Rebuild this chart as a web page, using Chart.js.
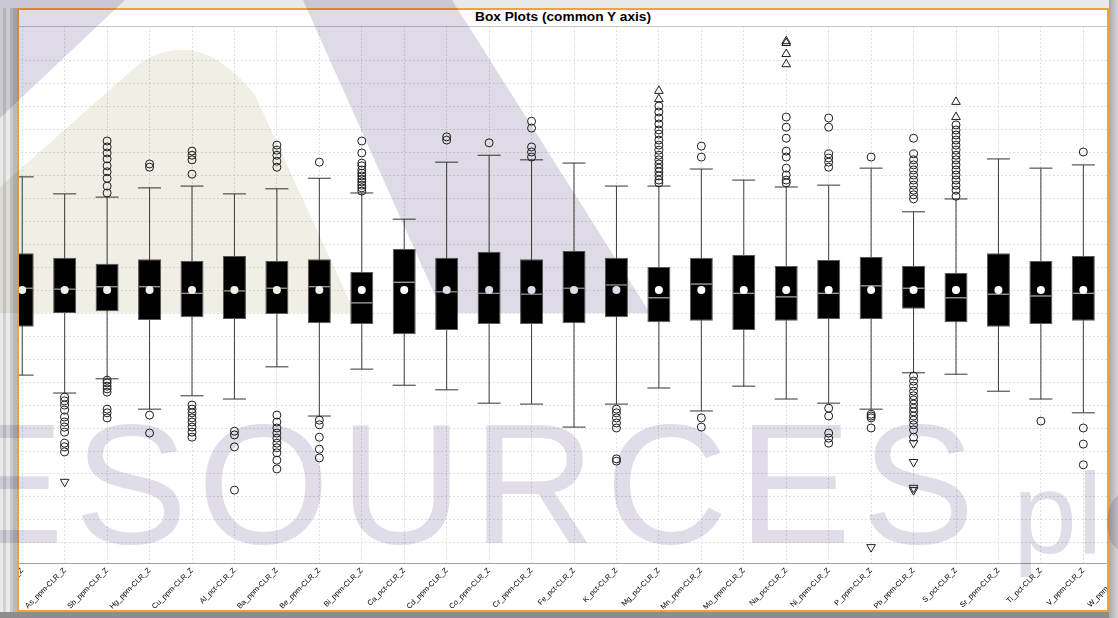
<!DOCTYPE html>
<html><head><meta charset="utf-8">
<title>Box Plots (common Y axis)</title>
<script src="https://cdn.jsdelivr.net/npm/chart.js@4.4.1/dist/chart.umd.min.js"></script>
<style>
html,body{margin:0;padding:0;}
body{width:1118px;height:618px;overflow:hidden;position:relative;background:#d3d3d3;font-family:"Liberation Sans",Arial,sans-serif;}
.abs{position:absolute;}
#leftStrip{left:0;top:0;width:17px;height:618px;background:linear-gradient(90deg,#e9e9e9 0,#e9e9e9 3px,#d0d0d0 3px,#d0d0d0 6px,#ececec 6px,#ececec 10px,#cbcbcb 10px,#cbcbcb 13px,#b9b9b9 13px,#b9b9b9 17px);}
#topStrip{left:0;top:0;width:1118px;height:8px;background:#e9e9e9;}
#bottomStrip{left:0;top:612px;width:1118px;height:6px;background:#8d8d8d;}
#rightStrip{left:1109px;top:0;width:9px;height:618px;background:linear-gradient(90deg,#a9a9a9,#d6d6d6);}
#frame{left:17px;top:8px;width:1088px;height:600px;border:2px solid #f0a23a;background:#fff;}
#clip{left:19px;top:10px;width:1088px;height:600px;overflow:hidden;}
#chartBox{left:-18px;top:16px;width:1146px;height:585px;}
#title{left:19px;top:9px;width:1088px;text-align:center;font-weight:bold;font-size:13.7px;line-height:16px;color:#000;}
#wm{left:0;top:0;mix-blend-mode:multiply;pointer-events:none;}
</style></head>
<body>
<div id="leftStrip" class="abs"></div>
<div id="topStrip" class="abs"></div>
<div id="bottomStrip" class="abs"></div>
<div id="rightStrip" class="abs"></div>
<div id="frame" class="abs"></div>
<div id="clip" class="abs"><div id="chartBox" class="abs"><canvas id="c" width="1146" height="585"></canvas></div></div>
<div id="title" class="abs">Box Plots (common Y axis)</div>
<svg id="wm" class="abs" width="1118" height="618" viewBox="0 0 1118 618">
 <polygon points="0,0 125,0 0,118" fill="#dedbe7"/>
 <path d="M0,313 L0,187 L140,63 Q200,25 255,95 L355,313 Z" fill="#f1eee5"/>
 <polygon points="303,0 452,0 650,313 443,313" fill="#dedbe7"/>
 <text x="-182" y="543" font-family="Liberation Sans, Arial, sans-serif" font-size="170" letter-spacing="10" fill="#e0dde9">RESOURCES</text>
 <text x="1013" y="553" font-family="Liberation Sans, Arial, sans-serif" font-size="115" fill="#e0dde9">plc</text>
</svg>
<script>
const categories = ['Au_ppb-CLR_Z','As_ppm-CLR_Z','Sb_ppm-CLR_Z','Hg_ppm-CLR_Z','Cu_ppm-CLR_Z','Al_pct-CLR_Z','Ba_ppm-CLR_Z','Be_ppm-CLR_Z','Bi_ppm-CLR_Z','Ca_pct-CLR_Z','Cd_ppm-CLR_Z','Co_ppm-CLR_Z','Cr_ppm-CLR_Z','Fe_pct-CLR_Z','K_pct-CLR_Z','Mg_pct-CLR_Z','Mn_ppm-CLR_Z','Mo_ppm-CLR_Z','Na_pct-CLR_Z','Ni_ppm-CLR_Z','P_ppm-CLR_Z','Pb_ppm-CLR_Z','S_pct-CLR_Z','Sr_ppm-CLR_Z','Ti_pct-CLR_Z','V_ppm-CLR_Z','W_ppm-CLR_Z'];

const whiskerHigh = [2.46,2.09,2.02,2.22,2.26,2.09,2.20,2.43,2.11,1.54,2.78,2.93,2.83,2.76,2.26,2.26,2.63,2.39,2.24,2.28,2.65,1.70,1.98,2.85,2.65,2.72,2.50];
const q3 = [0.80,0.70,0.57,0.67,0.63,0.74,0.63,0.67,0.39,0.89,0.70,0.83,0.67,0.85,0.70,0.50,0.70,0.76,0.52,0.65,0.72,0.52,0.37,0.80,0.63,0.74,0.70];
const median = [0.04,0.02,0.07,0.07,-0.07,-0.02,0.04,0.07,-0.28,0.17,-0.04,-0.07,-0.09,0.04,0.11,-0.17,0.13,-0.07,-0.15,-0.07,0.09,0.04,-0.17,-0.09,-0.13,-0.07,-0.05];
const q1 = [-0.80,-0.50,-0.46,-0.65,-0.59,-0.63,-0.52,-0.72,-0.74,-0.96,-0.87,-0.74,-0.74,-0.72,-0.59,-0.70,-0.67,-0.87,-0.67,-0.63,-0.63,-0.41,-0.70,-0.80,-0.74,-0.67,-0.70];
const whiskerLow = [-1.85,-2.24,-1.93,-2.59,-2.30,-2.37,-1.67,-2.74,-1.72,-2.07,-2.17,-2.46,-2.48,-2.98,-2.48,-2.13,-2.63,-2.09,-2.37,-2.46,-2.59,-1.80,-1.83,-2.20,-2.37,-2.67,-2.40];
const mean = [0,0,0,0,0,0,0,0,0,0,0,0,0,0,0,0,0,0,0,0,0,0,0,0,0,0,0];

const outliers = [
  [],
  [-2.33,-2.41,-2.50,-2.61,-2.76,-2.87,-2.98,-3.09,-3.33,-3.41,-3.52],
  [3.24,3.11,2.98,2.85,2.70,2.57,2.43,2.26,2.11,-1.96,-2.02,-2.09,-2.15,-2.22,-2.59,-2.67,-2.78],
  [2.74,2.67,-2.72,-3.11],
  [3.02,2.93,2.83,2.52,-2.50,-2.59,-2.67,-2.78,-2.87,-2.98,-3.09,-3.20],
  [-3.07,-3.15,-3.41,-4.35],
  [3.15,3.04,2.93,2.80,2.67,-2.72,-2.87,-3.00,-3.11,-3.22,-3.33,-3.43,-3.54,-3.70,-3.89],
  [2.78,-2.83,-2.93,-3.20,-3.46,-3.65],
  [3.24,2.98,2.76,2.70,2.61,2.54,2.48,2.41,2.35,2.28,2.22,2.15],
  [],
  [3.33,3.26],
  [3.20],
  [3.67,3.52,3.11,3.00,2.89],
  [],
  [-2.59,-2.67,-2.78,-2.89,-3.00,-3.67,-3.72],
  [4.00,3.87,3.74,3.61,3.48,3.39,3.26,3.15,3.04,2.93,2.83,2.74,2.65,2.57,2.48,2.39,2.33],
  [3.13,2.89,-2.78,-2.98],
  [],
  [3.76,3.54,3.30,3.02,2.89,2.65,2.50,2.39,2.33],
  [3.74,3.54,2.96,2.87,2.78,2.67,-2.57,-2.74,-3.11,-3.22,-3.33],
  [2.89,-2.70,-2.74,-2.78,-3.00],
  [3.30,2.96,2.83,2.72,2.61,2.50,2.39,2.28,2.17,2.07,1.98,-1.87,-1.98,-2.09,-2.20,-2.30,-2.39,-2.48,-2.57,-2.65,-2.74,-2.83,-2.93,-3.04,-3.20],
  [3.59,3.48,3.37,3.26,3.15,3.04,2.93,2.83,2.72,2.61,2.50,2.39,2.28,2.17,2.04],
  [],
  [-2.85],
  [3.00,-3.00,-3.35,-3.80],
  []
];
const extremeHigh = [[],[],[],[],[],[],[],[],[],[],[],[],[],[],[],[4.33,4.15],[],[],[5.41,5.37,5.13,4.91],[],[],[],[4.09,3.76],[],[],[],[]];
const extremeLow = [[],[-4.17],[],[],[],[],[],[],[],[],[],[],[],[],[],[],[],[],[],[],[-5.59],[-3.33,-3.74,-4.30,-4.35],[],[],[],[],[]];

const yMin = -5.935, yMax = 5.74;

const toPoints = (groups) => groups.flatMap((vals, i) => vals.map(v => ({x: categories[i], y: v})));

new Chart(document.getElementById('c'), {
  type: 'bar',
  data: {
    labels: categories,
    datasets: [
      {type:'bar', label:'whisker', data: categories.map((c,i)=>[whiskerLow[i], whiskerHigh[i]]),
        backgroundColor:'#3c3c3c', borderWidth:0, barThickness:1, grouped:false, inflateAmount:0, order:6},
      {type:'bar', label:'box', data: categories.map((c,i)=>[q1[i], q3[i]]),
        backgroundColor:'#000', borderColor:'#5a5a5a', borderWidth:1, borderSkipped:false,
        barThickness:23, grouped:false, inflateAmount:0, order:5},
      {type:'line', label:'capHigh', data: whiskerHigh, showLine:false, pointStyle:'line',
        pointRadius:11.5, pointBorderColor:'#333', pointBorderWidth:1, order:4},
      {type:'line', label:'capLow', data: whiskerLow, showLine:false, pointStyle:'line',
        pointRadius:11.5, pointBorderColor:'#333', pointBorderWidth:1, order:4},
      {type:'line', label:'median', data: median, showLine:false, pointStyle:'line',
        pointRadius:10.5, pointBorderColor:'#d6d6d6', pointBorderWidth:1, order:3},
      {type:'line', label:'mean', data: mean, showLine:false, pointStyle:'circle',
        pointRadius:4, pointBackgroundColor:'#fff', pointBorderColor:'#fff', pointBorderWidth:0, order:2},
      {type:'line', label:'outliers', data: toPoints(outliers), showLine:false, pointStyle:'circle',
        pointRadius:4, pointBackgroundColor:'rgba(0,0,0,0)', pointBorderColor:'#1e1e1e', pointBorderWidth:1, order:1},
      {type:'line', label:'extremeHigh', data: toPoints(extremeHigh), showLine:false, pointStyle:'triangle',
        pointRadius:5, pointBackgroundColor:'rgba(0,0,0,0)', pointBorderColor:'#1e1e1e', pointBorderWidth:1, order:1},
      {type:'line', label:'extremeLow', data: toPoints(extremeLow), showLine:false, pointStyle:'triangle',
        pointRotation:180, pointRadius:5, pointBackgroundColor:'rgba(0,0,0,0)', pointBorderColor:'#1e1e1e', pointBorderWidth:1, order:1}
    ]
  },
  options: {
    responsive:false, animation:false, devicePixelRatio:1,
    layout:{padding:0, autoPadding:false},
    plugins:{legend:{display:false}, tooltip:{enabled:false}, title:{display:false}},
    scales:{
      x:{type:'category', offset:true,
        grid:{offset:false, color:'#e0e0e0', lineWidth:1, drawTicks:false},
        border:{display:true, color:'#a5a5a5', width:1, dash:[2,2]},
        ticks:{autoSkip:false, minRotation:45, maxRotation:45, padding:3, color:'#000',
          font:{family:'"Liberation Sans", Arial, sans-serif', size:7.5}},
        afterFit(s){ s.height = 48; s.paddingLeft = 0; s.paddingRight = 0; }
      },
      y:{type:'linear', min:yMin, max:yMax,
        grid:{color:(c)=> (c.tick && c.tick.value===yMax) ? '#c6c6c6' : '#e0e0e0', lineWidth:1, drawTicks:false},
        border:{display:false, dash:(c)=> (c.tick && c.tick.value===yMax) ? [] : [2,2]},
        ticks:{display:false, stepSize:0.5, maxTicksLimit:100},
        afterFit(s){ s.width = 0; s.paddingTop = 0; s.paddingBottom = 0; }
      }
    }
  }
});
</script>
</body></html>
